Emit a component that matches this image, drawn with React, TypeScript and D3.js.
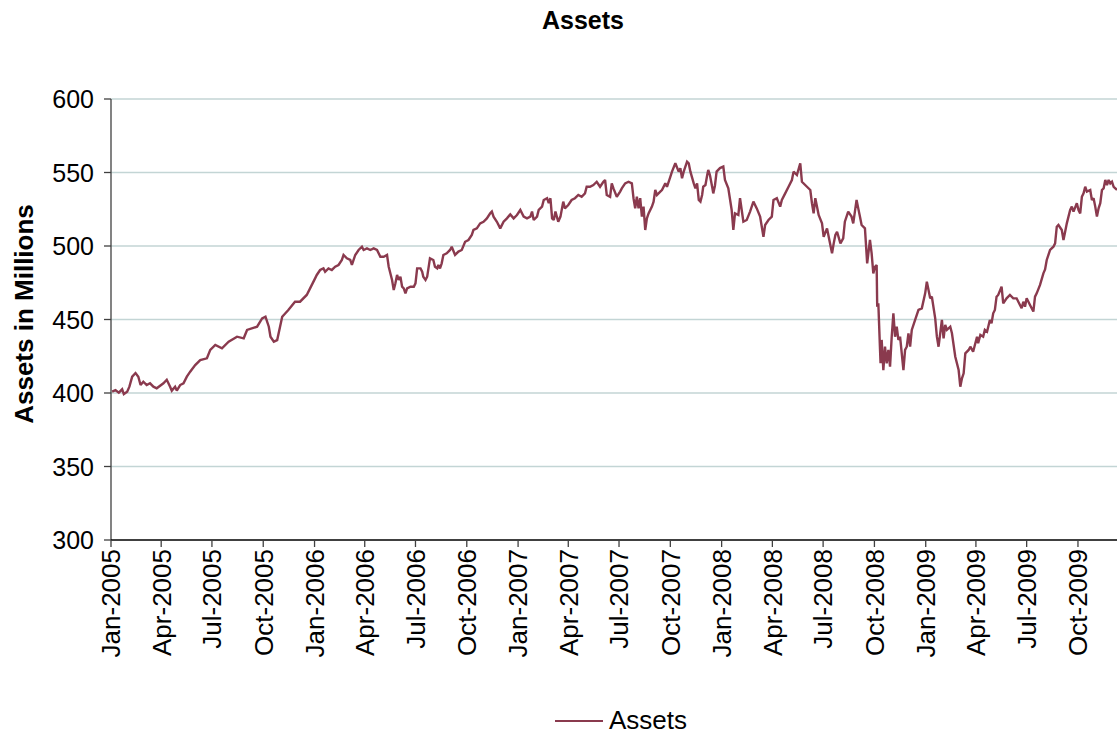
import React from "react";
import * as d3 from "d3";

const TITLE = "Assets";
const Y_LABEL = "Assets in Millions";
const SERIES_NAME = "Assets";
const Y_TICKS = [300, 350, 400, 450, 500, 550, 600];
const X_TICKS = [
  "2005-01-01", "2005-04-01", "2005-07-01", "2005-10-01",
  "2006-01-01", "2006-04-01", "2006-07-01", "2006-10-01",
  "2007-01-01", "2007-04-01", "2007-07-01", "2007-10-01",
  "2008-01-01", "2008-04-01", "2008-07-01", "2008-10-01",
  "2009-01-01", "2009-04-01", "2009-07-01", "2009-10-01",
];
const X_START = "2005-01-01";

const assets2005: [string, number][] = [
  ["2005-01-03", 401], ["2005-01-09", 402], ["2005-01-15", 400.2], ["2005-01-21", 402.5],
  ["2005-01-24", 399.3], ["2005-01-30", 400.9], ["2005-02-03", 404.3], ["2005-02-08", 411.1],
  ["2005-02-14", 413.6], ["2005-02-19", 411.1], ["2005-02-23", 405.4], ["2005-02-28", 407.7],
  ["2005-03-06", 405.4], ["2005-03-12", 406.6], ["2005-03-18", 404.3], ["2005-03-24", 403.2],
  ["2005-04-05", 406.6], ["2005-04-11", 409], ["2005-04-17", 404.3], ["2005-04-20", 401.6],
  ["2005-04-26", 404.3], ["2005-04-29", 401.6], ["2005-05-05", 405.4], ["2005-05-11", 406.6],
  ["2005-05-17", 411.1], ["2005-05-23", 414.5], ["2005-06-01", 419], ["2005-06-10", 422.4],
  ["2005-06-22", 423.6], ["2005-06-28", 429.3], ["2005-07-07", 432.7], ["2005-07-19", 430.4],
  ["2005-07-31", 434.9], ["2005-08-15", 438.3], ["2005-08-27", 437.2], ["2005-09-02", 442.9],
  ["2005-09-20", 445.1], ["2005-09-29", 450.8], ["2005-10-05", 451.9], ["2005-10-11", 445.1],
  ["2005-10-14", 438.3], ["2005-10-20", 434.9], ["2005-10-26", 436], ["2005-11-04", 451.9],
  ["2005-11-15", 456.5], ["2005-11-27", 462.1], ["2005-12-06", 462.1], ["2005-12-18", 466.7],
  ["2005-12-24", 471.2],
];

const assets2006: [string, number][] = [
  ["2006-01-02", 478], ["2006-01-05", 480.3], ["2006-01-11", 483.7], ["2006-01-17", 484.8],
  ["2006-01-20", 482.5], ["2006-01-26", 484.8], ["2006-02-01", 483.7], ["2006-02-07", 485.9],
  ["2006-02-13", 487.1], ["2006-02-19", 490.5], ["2006-02-22", 493.9], ["2006-02-28", 491.6],
  ["2006-03-06", 490.5], ["2006-03-09", 487.1], ["2006-03-15", 493.9], ["2006-03-21", 497.3],
  ["2006-03-27", 499.5], ["2006-03-30", 497.3], ["2006-04-05", 498.4], ["2006-04-11", 497.3],
  ["2006-04-17", 498.4], ["2006-04-23", 497.3], ["2006-04-29", 492.7], ["2006-05-05", 492.7],
  ["2006-05-11", 493.9], ["2006-05-14", 485.9], ["2006-05-20", 476.9], ["2006-05-23", 470.1],
  ["2006-05-26", 474.6], ["2006-05-29", 480.3], ["2006-06-01", 476.9], ["2006-06-04", 479.1],
  ["2006-06-07", 472.3], ["2006-06-10", 471.2], ["2006-06-13", 467.8], ["2006-06-16", 471.2],
  ["2006-06-22", 472.3], ["2006-06-28", 472.3], ["2006-07-01", 474.6], ["2006-07-04", 484.8],
  ["2006-07-10", 484.8], ["2006-07-13", 482.5], ["2006-07-15", 479.1], ["2006-07-19", 476.9],
  ["2006-07-22", 479.1], ["2006-07-27", 491.6], ["2006-08-02", 490.5], ["2006-08-05", 485.9],
  ["2006-08-09", 484.8], ["2006-08-11", 487.1], ["2006-08-14", 484.8], ["2006-08-17", 488.2],
  ["2006-08-20", 493.9], ["2006-08-26", 495], ["2006-09-01", 497.3], ["2006-09-04", 499.5],
  ["2006-09-10", 493.9], ["2006-09-16", 496.2], ["2006-09-22", 497.3], ["2006-09-28", 502.9],
  ["2006-10-04", 504.1], ["2006-10-10", 507.5], ["2006-10-13", 510.9], ["2006-10-19", 512],
  ["2006-10-25", 515.4], ["2006-10-31", 516.5], ["2006-11-06", 518.8], ["2006-11-12", 522.2],
  ["2006-11-15", 523.4], ["2006-11-18", 520], ["2006-11-24", 516.5], ["2006-11-30", 512],
  ["2006-12-06", 516.5], ["2006-12-12", 518.8], ["2006-12-18", 521.5], ["2006-12-24", 518.8],
  ["2006-12-30", 521.1],
];

const assets2007: [string, number][] = [
  ["2007-01-05", 524.5], ["2007-01-11", 520], ["2007-01-17", 518.8], ["2007-01-23", 520],
  ["2007-01-26", 523.4], ["2007-01-29", 517.7], ["2007-02-04", 520], ["2007-02-07", 524.5],
  ["2007-02-13", 526.8], ["2007-02-16", 531.3], ["2007-02-22", 532.5], ["2007-02-25", 529.1],
  ["2007-02-28", 532.5], ["2007-03-03", 518.8], ["2007-03-06", 517.7], ["2007-03-09", 523.4],
  ["2007-03-14", 516.5], ["2007-03-18", 520], ["2007-03-23", 530.2], ["2007-03-26", 525.6],
  ["2007-04-01", 527.9], ["2007-04-07", 531.3], ["2007-04-13", 532.5], ["2007-04-19", 534.7],
  ["2007-04-25", 533.5], ["2007-05-01", 535.8], ["2007-05-04", 540.3], ["2007-05-10", 540.3],
  ["2007-05-16", 541.5], ["2007-05-22", 543.7], ["2007-05-28", 540.3], ["2007-06-03", 543.7],
  ["2007-06-06", 544.9], ["2007-06-09", 534.7], ["2007-06-15", 533.5], ["2007-06-18", 542.6],
  ["2007-06-21", 539.2], ["2007-06-27", 533.5], ["2007-07-03", 537], ["2007-07-06", 539.2],
  ["2007-07-12", 542.6], ["2007-07-18", 543.7], ["2007-07-24", 542.6], ["2007-07-27", 532.5],
  ["2007-07-30", 525.6], ["2007-08-02", 533.5], ["2007-08-05", 525.6], ["2007-08-08", 532.5],
  ["2007-08-11", 520], ["2007-08-14", 526.8], ["2007-08-17", 510.9], ["2007-08-20", 518.8],
  ["2007-08-23", 522.2], ["2007-08-29", 526.8], ["2007-09-01", 530.2], ["2007-09-04", 538.1],
  ["2007-09-07", 534.7], ["2007-09-13", 537], ["2007-09-16", 538.1], ["2007-09-22", 542.6],
  ["2007-09-25", 540.3], ["2007-09-28", 543.7], ["2007-10-01", 547.1], ["2007-10-04", 550.6],
  ["2007-10-10", 556.3], ["2007-10-16", 550.6], ["2007-10-19", 552.9], ["2007-10-22", 546.1],
  ["2007-10-25", 550.6], ["2007-10-28", 554], ["2007-10-31", 557.4], ["2007-11-03", 556.3],
  ["2007-11-06", 550.6], ["2007-11-12", 542.6], ["2007-11-15", 539.2], ["2007-11-18", 542.6],
  ["2007-11-21", 531.3], ["2007-11-24", 530.2], ["2007-11-27", 534.7], ["2007-11-29", 540.3],
  ["2007-12-03", 541.5], ["2007-12-06", 548], ["2007-12-08", 551.7], ["2007-12-11", 548.3],
  ["2007-12-15", 540.3], ["2007-12-17", 535.8], ["2007-12-20", 541], ["2007-12-23", 550.6],
  ["2007-12-29", 553],
];

const assets2008: [string, number][] = [
  ["2008-01-04", 554], ["2008-01-07", 544.9], ["2008-01-13", 539.2], ["2008-01-19", 524.5],
  ["2008-01-22", 510.9], ["2008-01-25", 522.2], ["2008-01-31", 521.1], ["2008-02-03", 532.5],
  ["2008-02-06", 524.5], ["2008-02-09", 516.5], ["2008-02-15", 517.7], ["2008-02-21", 523.4],
  ["2008-02-27", 530.2], ["2008-03-04", 525.6], ["2008-03-10", 520], ["2008-03-16", 506.3],
  ["2008-03-19", 514.3], ["2008-03-25", 517.7], ["2008-03-31", 520], ["2008-04-03", 531.3],
  ["2008-04-09", 532.5], ["2008-04-15", 526.8], ["2008-04-18", 531.3], ["2008-04-24", 535.8],
  ["2008-04-30", 540.3], ["2008-05-06", 544.9], ["2008-05-09", 550.6], ["2008-05-15", 548.3],
  ["2008-05-21", 556.3], ["2008-05-24", 543.7], ["2008-06-02", 540.3], ["2008-06-08", 538.1],
  ["2008-06-11", 529.1], ["2008-06-14", 522.2], ["2008-06-17", 532.5], ["2008-06-23", 521.1],
  ["2008-06-29", 515.4], ["2008-07-02", 506.3], ["2008-07-08", 512], ["2008-07-11", 506.3],
  ["2008-07-17", 495], ["2008-07-20", 501.8], ["2008-07-23", 507.5], ["2008-07-26", 509.7],
  ["2008-08-01", 501.8], ["2008-08-06", 505.2], ["2008-08-09", 516.5], ["2008-08-15", 523.4],
  ["2008-08-21", 520], ["2008-08-24", 515.4], ["2008-08-27", 523.4], ["2008-08-30", 531.3],
  ["2008-09-02", 525.6], ["2008-09-05", 520], ["2008-09-08", 514.3], ["2008-09-14", 512],
  ["2008-09-18", 488.2], ["2008-09-23", 504.1], ["2008-09-26", 495], ["2008-09-29", 481.4],
  ["2008-10-02", 485.9], ["2008-10-05", 487.1], ["2008-10-06", 458.7], ["2008-10-08", 461],
  ["2008-10-11", 430], ["2008-10-12", 420.2], ["2008-10-14", 436.1], ["2008-10-17", 415.6],
  ["2008-10-20", 431.5], ["2008-10-23", 420.2], ["2008-10-26", 429.3], ["2008-10-29", 417.9],
  ["2008-11-01", 438.3], ["2008-11-04", 454.2], ["2008-11-07", 438.3], ["2008-11-10", 445.1],
  ["2008-11-13", 436.1], ["2008-11-16", 438.3], ["2008-11-22", 415.6], ["2008-11-25", 429.3],
  ["2008-11-28", 431.5], ["2008-12-01", 440.6], ["2008-12-04", 431.5], ["2008-12-07", 442.9],
  ["2008-12-13", 449.7], ["2008-12-19", 456.5], ["2008-12-25", 457.6], ["2008-12-31", 467.8],
];

const assets2009: [string, number][] = [
  ["2009-01-03", 475.7], ["2009-01-06", 470.1], ["2009-01-09", 464.4], ["2009-01-12", 465.5],
  ["2009-01-18", 450.8], ["2009-01-21", 438.3], ["2009-01-24", 431.5], ["2009-01-27", 440.6],
  ["2009-01-30", 449.7], ["2009-02-02", 437.2], ["2009-02-05", 446.3], ["2009-02-08", 442.9],
  ["2009-02-14", 445.1], ["2009-02-17", 440.6], ["2009-02-23", 424.7], ["2009-03-01", 415.6],
  ["2009-03-04", 404.3], ["2009-03-07", 410], ["2009-03-10", 413.4], ["2009-03-13", 427],
  ["2009-03-19", 429.3], ["2009-03-22", 431.5], ["2009-03-27", 428.1], ["2009-04-03", 438.3],
  ["2009-04-05", 433.8], ["2009-04-09", 439.5], ["2009-04-14", 438.3], ["2009-04-17", 442.9],
  ["2009-04-21", 441.7], ["2009-04-26", 449.7], ["2009-04-29", 447.4], ["2009-05-02", 454.2],
  ["2009-05-05", 456.5], ["2009-05-08", 465.5], ["2009-05-11", 466.7], ["2009-05-17", 472.3],
  ["2009-05-20", 461], ["2009-05-26", 464.4], ["2009-06-01", 466.7], ["2009-06-07", 464.4],
  ["2009-06-13", 464.4], ["2009-06-19", 459.9], ["2009-06-22", 457.6], ["2009-06-25", 462.1],
  ["2009-06-28", 458.7], ["2009-07-01", 464.4], ["2009-07-07", 459.9], ["2009-07-13", 455.4],
  ["2009-07-16", 465.5], ["2009-07-19", 467.8], ["2009-07-25", 473.5], ["2009-07-31", 481.4],
  ["2009-08-03", 484], ["2009-08-06", 490.5], ["2009-08-12", 497.3], ["2009-08-18", 499.5],
  ["2009-08-21", 501.8], ["2009-08-24", 513.1], ["2009-08-27", 514.3], ["2009-09-02", 510.9],
  ["2009-09-05", 504.1], ["2009-09-08", 509.7], ["2009-09-11", 515.4], ["2009-09-17", 524.5],
  ["2009-09-20", 526.8], ["2009-09-23", 523.4], ["2009-09-29", 529.1], ["2009-10-02", 524.5],
  ["2009-10-05", 522.2], ["2009-10-08", 533.5], ["2009-10-11", 535.8], ["2009-10-14", 540.3],
  ["2009-10-17", 537], ["2009-10-23", 538.1], ["2009-10-26", 531.3], ["2009-10-29", 532.5],
  ["2009-11-01", 526.8], ["2009-11-04", 520], ["2009-11-07", 525.6], ["2009-11-10", 529.1],
  ["2009-11-13", 538.1], ["2009-11-16", 539.2], ["2009-11-19", 544.9], ["2009-11-22", 541.5],
  ["2009-11-25", 544.9], ["2009-11-28", 542.6], ["2009-12-01", 543.7], ["2009-12-04", 540.3],
  ["2009-12-10", 538.1],
];

const W = 1117;
const H = 734;
const M = { left: 111, right: 1117, top: 99, bottom: 540 };
const FONT = "'Liberation Sans', Arial, Helvetica, sans-serif";
const LINE_COLOR = "#8A3A4E";
const GRID_COLOR = "#C3D5D5";
const AXIS_COLOR = "#404040";

const parse = d3.timeParse("%Y-%m-%d");
const fmt = d3.timeFormat("%b-%Y");

export default function App() {
  const raw = [...assets2005, ...assets2006, ...assets2007, ...assets2008, ...assets2009];
  const data = raw.map(([d, v]) => ({ date: parse(d) as Date, value: v }));
  const x = d3
    .scaleTime()
    .domain([parse(X_START) as Date, data[data.length - 1].date])
    .range([M.left, M.right]);
  const y = d3.scaleLinear().domain([300, 600]).range([M.bottom, M.top]);
  const line = d3
    .line<{ date: Date; value: number }>()
    .x((d) => x(d.date))
    .y((d) => y(d.value));
  const xTicks = X_TICKS.map((s) => parse(s) as Date);

  return (
    <svg
      width={W}
      height={H}
      style={{ position: "absolute", left: 0, top: 0, background: "#fff" }}
      fontFamily={FONT}
    >
      <rect x={0} y={0} width={W} height={H} fill="#fff" />
      <text x={583} y={29} textAnchor="middle" fontSize={25} fontWeight="bold" fill="#000">
        {TITLE}
      </text>
      {Y_TICKS.filter((t) => t !== 300).map((t) => (
        <line key={"g" + t} x1={M.left} x2={M.right} y1={y(t)} y2={y(t)} stroke={GRID_COLOR} strokeWidth={1.3} />
      ))}
      <path d={line(data) || ""} fill="none" stroke={LINE_COLOR} strokeWidth={2.4} strokeLinejoin="miter" strokeMiterlimit={2} />
      <line x1={M.left} x2={M.left} y1={M.top} y2={M.bottom} stroke={AXIS_COLOR} strokeWidth={1.3} />
      <line x1={M.left} x2={M.right} y1={M.bottom} y2={M.bottom} stroke="#000" strokeWidth={1.3} />
      {Y_TICKS.map((t) => (
        <g key={"y" + t}>
          <line x1={M.left - 7} x2={M.left} y1={y(t)} y2={y(t)} stroke={AXIS_COLOR} strokeWidth={1.3} />
          <text x={94} y={y(t)} dy="0.36em" textAnchor="end" fontSize={25} fill="#000">
            {t}
          </text>
        </g>
      ))}
      {xTicks.map((d, i) => (
        <g key={"x" + i}>
          <line x1={x(d)} x2={x(d)} y1={M.bottom} y2={M.bottom + 7} stroke={AXIS_COLOR} strokeWidth={1.3} />
          <text
            transform={`translate(${x(d)},549) rotate(-90)`}
            dy="0.36em"
            textAnchor="end"
            fontSize={26}
            fill="#000"
          >
            {fmt(d)}
          </text>
        </g>
      ))}
      <text
        transform={`translate(33,314) rotate(-90)`}
        textAnchor="middle"
        fontSize={26}
        fontWeight="bold"
        fill="#000"
      >
        {Y_LABEL}
      </text>
      <line x1={555} x2={603} y1={721} y2={721} stroke={LINE_COLOR} strokeWidth={2} />
      <text x={609} y={729} fontSize={26} fill="#000">
        {SERIES_NAME}
      </text>
    </svg>
  );
}
